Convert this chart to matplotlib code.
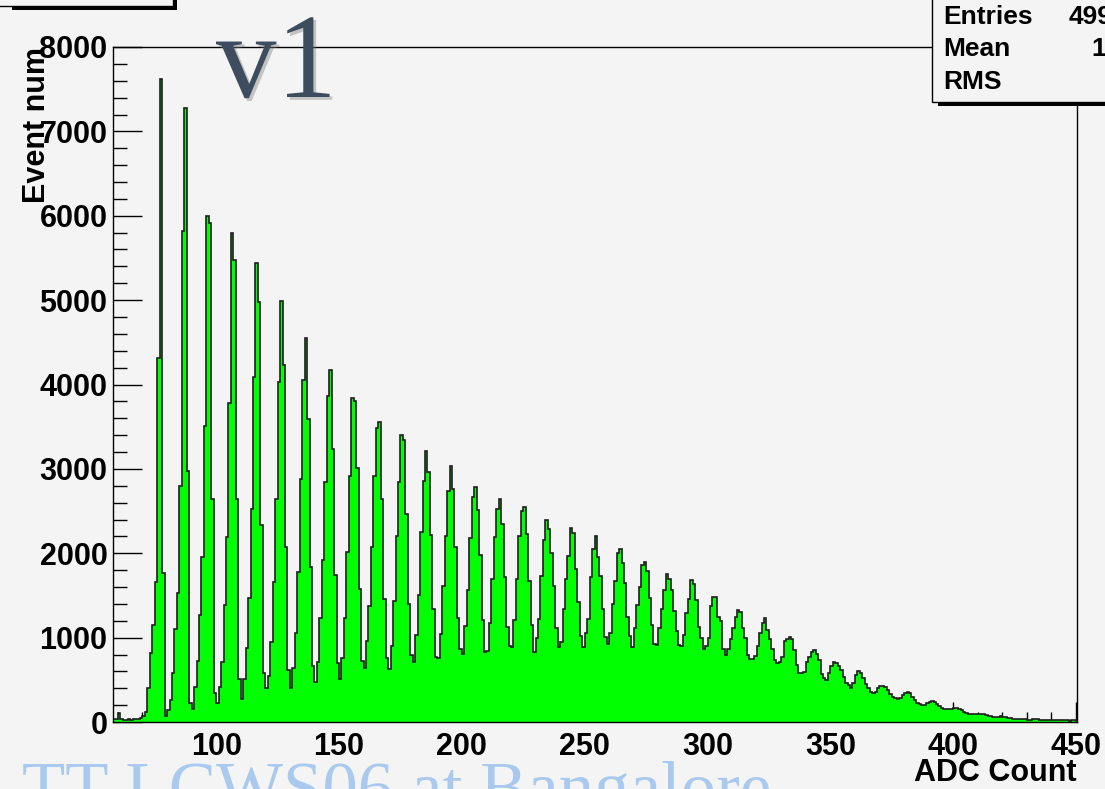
import numpy as np
import matplotlib.pyplot as plt
from matplotlib.patches import Rectangle
import matplotlib.patheffects as pe

# ADC bins of width 1, left edges 58 .. 450
adc_edges = np.arange(58, 452)

# event counts per ADC bin, one row per decade
event_counts = [
    30, 35,                                                        # 58-59
    110, 30, 25, 25, 30, 25, 30, 30, 35, 45,                      # 60
    70, 120, 400, 820, 1150, 1655, 4320, 7615, 1770, 75,          # 70
    140, 256, 575, 1100, 1530, 2800, 5820, 7280, 2970, 225,       # 80
    160, 410, 720, 1265, 1950, 3510, 6000, 5910, 2640, 340,       # 90
    230, 412, 714, 1388, 2196, 3782, 5800, 5477, 2640, 504,       # 100
    270, 504, 876, 1473, 2522, 4092, 5444, 4972, 2337, 580,       # 110
    400, 540, 948, 1663, 2640, 4024, 4992, 4234, 2074, 622,       # 120
    404, 642, 1057, 1780, 2880, 4050, 4550, 3590, 1840, 660,      # 130
    475, 710, 1230, 1925, 2850, 3860, 4170, 3240, 1745, 700,      # 140
    505, 760, 1230, 2010, 2910, 3840, 3810, 3010, 1580, 720,      # 150
    645, 960, 1380, 2080, 2920, 3480, 3550, 2640, 1460, 760,      # 160
    625, 900, 1435, 2210, 2840, 3400, 3345, 2460, 1400, 800,      # 170
    710, 1035, 1500, 2250, 2860, 3210, 2960, 2220, 1340, 770,     # 180
    760, 1040, 1610, 2210, 2740, 3030, 2760, 2070, 1230, 870,     # 190
    810, 1140, 1560, 2180, 2670, 2780, 2510, 1980, 1210, 830,     # 200
    840, 1170, 1690, 2190, 2530, 2640, 2350, 1714, 1130, 900,     # 210
    885, 1210, 1690, 2205, 2505, 2553, 2224, 1670, 1150, 830,     # 220
    990, 1225, 1730, 2155, 2400, 2283, 2006, 1615, 1110, 890,     # 230
    945, 1335, 1700, 1970, 2303, 2236, 1813, 1425, 1020, 885,     # 240
    1050, 1225, 1720, 2046, 2205, 1960, 1730, 1335, 1010, 930,    # 250
    1060, 1400, 1675, 2000, 2046, 1890, 1650, 1240, 1020, 890,    # 260
    1110, 1390, 1595, 1860, 1900, 1790, 1465, 1150, 920, 910,     # 270
    1110, 1335, 1570, 1760, 1695, 1570, 1310, 1080, 910, 900,     # 280
    1030, 1290, 1460, 1680, 1640, 1445, 1130, 1000, 860, 900,     # 290
    990, 1370, 1485, 1485, 1240, 1200, 870, 800, 870, 980,        # 300
    1110, 1240, 1325, 1300, 1110, 1000, 800, 750, 743, 782,       # 310
    900, 1059, 1170, 1229, 1090, 980, 861, 735, 703, 715,         # 320
    775, 960, 980, 1004, 980, 853, 676, 585, 585, 597,            # 330
    715, 775, 834, 853, 806, 735, 565, 526, 498, 577,             # 340
    664, 715, 696, 664, 617, 538, 466, 439, 407, 466,             # 350
    557, 605, 577, 518, 451, 400, 350, 340, 360, 400,             # 360
    425, 430, 415, 380, 330, 300, 280, 275, 290, 320,             # 370
    345, 350, 340, 300, 260, 230, 210, 200, 205, 220,             # 380
    240, 245, 235, 210, 185, 170, 160, 155, 150, 160,             # 390
    165, 168, 160, 140, 120, 105, 100, 100, 98, 95,               # 400
    98, 95, 92, 85, 75, 70, 65, 65, 63, 70,                       # 410
    65, 55, 50, 45, 40, 35, 32, 35, 35, 30,                       # 420
    28, 27, 30, 35, 32, 28, 25, 22, 20, 22,                       # 430
    25, 22, 20, 18, 22, 25, 20, 15, 18, 20,                       # 440
    15,                                                            # 450
]

x_major = list(range(100, 451, 50))
x_minor = list(range(60, 451, 10))
y_major = list(range(0, 8001, 1000))
y_minor = list(range(0, 8001, 200))

stats_labels = ["Entries", "Mean", "RMS"]
stats_values = ["499873", "190.4", "70.2"]

W, H = 1105, 789
bg = '#f4f4f4'
sans = 'Liberation Sans'
serif = 'Liberation Serif'


def fx(x):
    return x / W


def fy(y):
    return 1 - y / H


fig = plt.figure(figsize=(W / 100, H / 100), dpi=100, facecolor=bg)
ax = fig.add_axes([fx(113), fy(722), (1077 - 113) / W, (722 - 47) / H])
ax.set_facecolor(bg)

# the histogram: green fill and dark outline
ax.stairs(event_counts, adc_edges, fill=True, color='#00ff00', zorder=2)
ax.stairs(event_counts, adc_edges, color='#1e1e1e', linewidth=1.2, zorder=3)

ax.set_xlim(58, 450.4)
ax.set_ylim(0, 8000)
ax.set_xticks(x_major)
ax.set_xticks(x_minor, minor=True)
ax.set_yticks(y_major)
ax.set_yticks(y_minor, minor=True)
ax.tick_params(which='both', direction='in', top=False, right=False, width=1.0, colors='black')
ax.tick_params(axis='x', which='major', length=14.5, pad=7)
ax.tick_params(axis='x', which='minor', length=7.2)
ax.tick_params(axis='y', which='major', length=21, pad=4)
ax.tick_params(axis='y', which='minor', length=10)
for lab in ax.get_xticklabels() + ax.get_yticklabels():
    lab.set_fontfamily(sans)
    lab.set_fontweight('bold')
    lab.set_fontsize(22)
for sp in ax.spines.values():
    sp.set_linewidth(1.0)
    sp.set_zorder(4)

# axis titles
fig.text(fx(37), fy(47), "Event num", rotation=90, ha='center', va='top',
         family=sans, weight='bold', fontsize=22, zorder=6)
fig.text(fx(1076), fy(773), "ADC Count", ha='right', va='center',
         family=sans, weight='bold', fontsize=22)

# title box in the top left corner (mostly outside the picture)
fig.add_artist(Rectangle((fx(12), fy(10)), (177 - 12) / W, 60 / H, transform=fig.transFigure,
                         facecolor='black', edgecolor='none', zorder=7))
fig.add_artist(Rectangle((fx(-10), fy(6)), (173 + 10) / W, 60 / H, transform=fig.transFigure,
                         facecolor=bg, edgecolor='black', linewidth=1.0, zorder=8))

# statistics box in the top right corner
fig.add_artist(Rectangle((fx(938), fy(106)), 200 / W, 140 / H, transform=fig.transFigure,
                         facecolor='black', edgecolor='none', zorder=7))
fig.add_artist(Rectangle((fx(932), fy(102)), 200 / W, 140 / H, transform=fig.transFigure,
                         facecolor=bg, edgecolor='black', linewidth=1.0, zorder=8))
for i, (lab, val) in enumerate(zip(stats_labels, stats_values)):
    yy = fy(17 + 32.5 * i)
    fig.text(fx(943), yy, lab, ha='left', va='center', family=sans, weight='bold',
             fontsize=19, zorder=9)
    fig.text(fx(1157), yy, val, ha='right', va='center', family=sans, weight='bold',
             fontsize=19, zorder=9)

# big "v1" label
fig.text(fx(216), fy(97), "v1", ha='left', va='baseline', family=serif, fontsize=87,
         color='#3d4d5f', zorder=9,
         path_effects=[pe.withSimplePatchShadow(offset=(2, -2), shadow_rgbFace='#7a7a7a', alpha=0.4)])

# workshop watermark at the bottom
fig.text(fx(22), fy(811), "TT-LCWS06 at Bangalore", ha='left', va='baseline', family=serif,
         fontsize=51, color='#a9c9ef', zorder=9)

fig.savefig('out.png', dpi=100, facecolor=bg)
